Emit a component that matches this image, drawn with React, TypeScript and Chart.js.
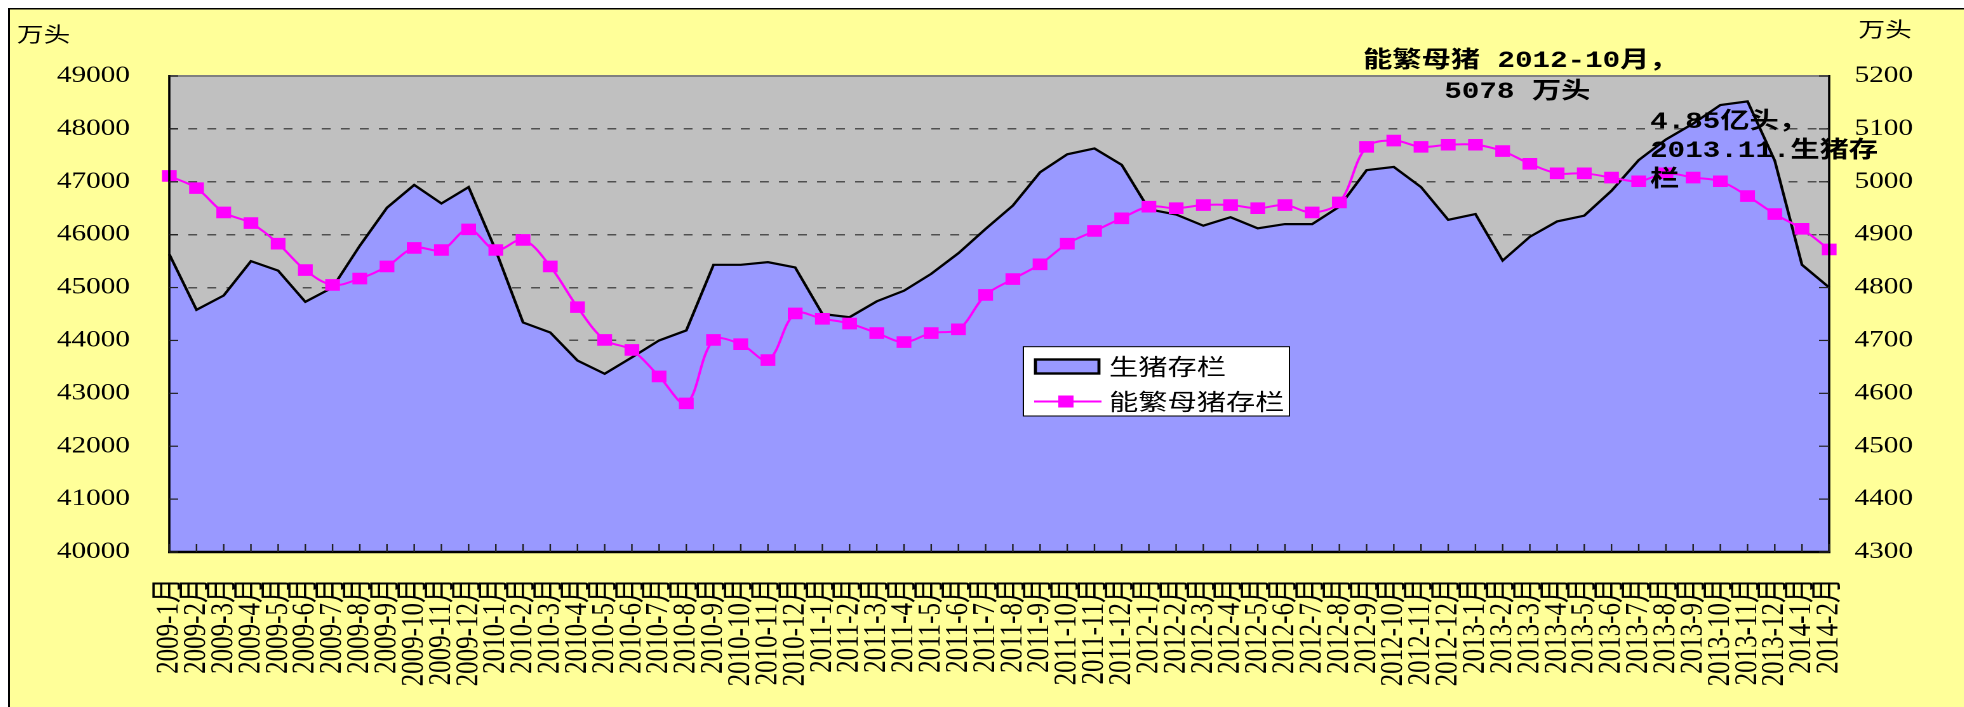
import React, { useEffect, useRef } from 'react';
import { Chart, registerables } from 'chart.js';

Chart.register(...registerables);

// ---------- data ----------
const categories: string[] = [
  '2009-1月', '2009-2月', '2009-3月', '2009-4月', '2009-5月', '2009-6月', '2009-7月', '2009-8月', '2009-9月', '2009-10月', '2009-11月', '2009-12月',
  '2010-1月', '2010-2月', '2010-3月', '2010-4月', '2010-5月', '2010-6月', '2010-7月', '2010-8月', '2010-9月', '2010-10月', '2010-11月', '2010-12月',
  '2011-1月', '2011-2月', '2011-3月', '2011-4月', '2011-5月', '2011-6月', '2011-7月', '2011-8月', '2011-9月', '2011-10月', '2011-11月', '2011-12月',
  '2012-1月', '2012-2月', '2012-3月', '2012-4月', '2012-5月', '2012-6月', '2012-7月', '2012-8月', '2012-9月', '2012-10月', '2012-11月', '2012-12月',
  '2013-1月', '2013-2月', '2013-3月', '2013-4月', '2013-5月', '2013-6月', '2013-7月', '2013-8月', '2013-9月', '2013-10月', '2013-11月', '2013-12月',
  '2014-1月', '2014-2月',
];

// 生猪存栏 (万头, left axis)
const hogStock: number[] = [
  45630, 44580, 44850, 45500, 45320, 44730, 45000, 45790, 46510, 46940, 46590, 46900,
  45700, 44340, 44150, 43620, 43370, 43680, 44000, 44190, 45430, 45430, 45480, 45380,
  44500, 44440, 44740, 44940, 45260, 45650, 46110, 46550, 47180, 47520, 47630, 47320,
  46480, 46380, 46170, 46330, 46120, 46200, 46200, 46530, 47220, 47280, 46900, 46280,
  46390, 45510, 45960, 46250, 46360, 46830, 47410, 47800, 48100, 48450, 48520, 47400,
  45430, 45000,
];

// 能繁母猪存栏 (万头, right axis)
const sowStock: number[] = [
  5011, 4988, 4942, 4922, 4883, 4833, 4805, 4817, 4840, 4875, 4871, 4910,
  4871, 4890, 4840, 4763, 4701, 4682, 4632, 4581, 4701, 4693, 4663, 4751,
  4741, 4732, 4714, 4697, 4714, 4721, 4786, 4816, 4844, 4883, 4907, 4931,
  4953, 4950, 4956, 4956, 4950, 4956, 4942, 4961, 5066, 5078, 5066, 5070,
  5070, 5058, 5034, 5016, 5016, 5008, 5001, 5016, 5008, 5001, 4973, 4939,
  4911, 4872,
];

const seriesNames: string[] = ['生猪存栏', '能繁母猪存栏'];
const leftAxisRange: number[] = [40000, 49000, 1000];
const rightAxisRange: number[] = [4300, 5200, 100];
const unitLabel = '万头';
const noteSow: string[] = ['能繁母猪 2012-10月，', '5078 万头'];
const noteHog: string[] = ['4.85亿头，', '2013.11.生猪存', '栏'];

// ---------- layout ----------
const STRETCH = 1.27;
const W = 1540;
const H = 699;

const NUM = "'Liberation Serif', 'Noto Sans CJK SC', serif";
const CJK = "'Noto Sans CJK SC', sans-serif";
const MONO = "'Liberation Mono', 'Noto Sans CJK SC', monospace";

export default function App() {
  const ref = useRef<HTMLCanvasElement>(null);

  useEffect(() => {
    const canvas = ref.current;
    if (!canvas) return;

    const line = (ctx: CanvasRenderingContext2D, x1: number, y1: number, x2: number, y2: number) => {
      ctx.beginPath();
      ctx.moveTo(x1, y1);
      ctx.lineTo(x2, y2);
      ctx.stroke();
    };

    const decor = {
      id: 'decor',
      beforeDraw(chart: any) {
        const { ctx, chartArea: a } = chart;
        ctx.save();
        ctx.fillStyle = '#FFFF99';
        ctx.fillRect(0, 0, chart.width, chart.height);
        ctx.fillStyle = '#C0C0C0';
        ctx.fillRect(a.left, a.top, a.right - a.left, a.bottom - a.top);
        ctx.strokeStyle = '#000';
        ctx.lineWidth = 1.5;
        ctx.beginPath();
        ctx.moveTo(0.75, chart.height);
        ctx.lineTo(0.75, 0.75);
        ctx.lineTo(chart.width, 0.75);
        ctx.stroke();
        ctx.restore();
      },
      afterDraw(chart: any) {
        const { ctx, chartArea: a, scales } = chart;
        const xs = scales.x;
        const ys = scales.y;
        const ys1 = scales.y1;
        ctx.save();
        // plot frame
        ctx.strokeStyle = '#808080';
        ctx.lineWidth = 2;
        line(ctx, a.left, a.top, a.right, a.top);
        ctx.strokeStyle = '#000';
        ctx.lineWidth = 1.8;
        line(ctx, a.left, a.top - 1, a.left, a.bottom);
        line(ctx, a.right, a.top - 1, a.right, a.bottom);
        ctx.lineWidth = 2.6;
        line(ctx, a.left - 1, a.bottom, a.right + 1, a.bottom);
        // inward tick marks
        ctx.lineWidth = 1.2;
        ctx.strokeStyle = '#222';
        ys.ticks.forEach((t: any) => {
          const py = ys.getPixelForValue(t.value);
          line(ctx, a.left, py, a.left + 7, py);
        });
        ys1.ticks.forEach((t: any) => {
          const py = ys1.getPixelForValue(t.value);
          line(ctx, a.right - 8, py, a.right, py);
        });
        categories.forEach((_, i) => {
          const px = xs.getPixelForValue(i);
          line(ctx, px, a.bottom, px, a.bottom - 8);
        });

        // unit labels
        ctx.fillStyle = '#000';
        ctx.textBaseline = 'middle';
        ctx.textAlign = 'left';
        ctx.font = `21px ${CJK}`;
        ctx.fillText(unitLabel, 7, 26);
        ctx.fillText(unitLabel, 1457, 21);

        // annotations
        ctx.font = `bold 23px ${MONO}`;
        ctx.fillText(noteSow[0], 1067, 53);
        ctx.fillText(noteSow[1], 1131, 84);
        ctx.fillText(noteHog[0], 1293, 114);
        ctx.fillText(noteHog[1], 1293, 143);
        ctx.fillText(noteHog[2], 1293, 172);

        // legend
        const lx = 799.5, ly = 338.7, lw = 209.5, lh = 69.3;
        ctx.fillStyle = '#FFFFFF';
        ctx.fillRect(lx, ly, lw, lh);
        ctx.strokeStyle = '#000';
        ctx.lineWidth = 1;
        ctx.strokeRect(lx, ly, lw, lh);
        const ds = chart.data.datasets;
        ctx.fillStyle = ds[0].backgroundColor;
        ctx.fillRect(809, 351.5, 50, 14);
        ctx.lineWidth = 2.4;
        ctx.strokeStyle = '#000';
        ctx.strokeRect(809, 351.5, 50, 14);
        ctx.strokeStyle = ds[1].borderColor;
        ctx.lineWidth = 2;
        line(ctx, 808, 393.5, 861, 393.5);
        ctx.fillStyle = ds[1].borderColor;
        ctx.fillRect(833 - 6, 393.5 - 6, 12, 12);
        ctx.fillStyle = '#000';
        ctx.font = `23px ${CJK}`;
        ctx.fillText(ds[0].label, 867, 358.5);
        ctx.fillText(ds[1].label, 867, 393.5);
        ctx.restore();
      },
    };

    const chart = new Chart(canvas, {
      type: 'line',
      data: {
        labels: categories,
        datasets: [
          {
            label: seriesNames[0],
            data: hogStock,
            yAxisID: 'y',
            fill: 'start',
            backgroundColor: '#9999FF',
            borderColor: '#000000',
            borderWidth: 2.2,
            pointRadius: 0,
            tension: 0,
            order: 2,
          },
          {
            label: seriesNames[1],
            data: sowStock,
            yAxisID: 'y1',
            fill: false,
            backgroundColor: '#FF00FF',
            borderColor: '#FF00FF',
            borderWidth: 2,
            pointStyle: 'rect',
            pointRadius: 7.5,
            pointBorderWidth: 1,
            pointBackgroundColor: '#FF00FF',
            pointBorderColor: '#FF00FF',
            tension: 0.35,
            clip: false,
            order: 1,
          },
        ],
      },
      options: {
        responsive: false,
        animation: false,
        devicePixelRatio: 2,
        layout: { padding: { top: 68, left: 0, right: 0, bottom: 0 } },
        plugins: {
          legend: { display: false },
          tooltip: { enabled: false },
        },
        scales: {
          x: {
            type: 'category',
            offset: false,
            grid: { display: false, drawTicks: false },
            border: { display: false },
            ticks: {
              autoSkip: false,
              minRotation: 90,
              maxRotation: 90,
              padding: 26,
              color: '#000',
              font: { family: NUM, size: 25 },
            },
            afterFit(s: any) { s.height = 155; },
          },
          y: {
            position: 'left',
            min: leftAxisRange[0],
            max: leftAxisRange[1],
            grid: { color: '#505050', lineWidth: 1.5, drawTicks: false },
            border: { display: false, dash: [7, 8] },
            ticks: {
              stepSize: leftAxisRange[2],
              padding: 31,
              color: '#000',
              font: { family: NUM, size: 23 },
              callback: (v: any) => String(v),
            },
            afterFit(s: any) { s.width = 127; },
          },
          y1: {
            position: 'right',
            min: rightAxisRange[0],
            max: rightAxisRange[1],
            grid: { display: false, drawTicks: false },
            border: { display: false },
            ticks: {
              stepSize: rightAxisRange[2],
              padding: 20,
              color: '#000',
              font: { family: NUM, size: 23 },
              callback: (v: any) => String(v),
            },
            afterFit(s: any) { s.width = 106; },
          },
        },
      } as any,
      plugins: [decor],
    });

    return () => chart.destroy();
  }, []);

  return (
    <div
      style={{
        position: 'fixed',
        left: 8,
        top: 8,
        width: W,
        height: H,
        transform: `scaleX(${STRETCH})`,
        transformOrigin: '0 0',
      }}
    >
      <canvas ref={ref} width={W} height={H} style={{ display: 'block' }} />
    </div>
  );
}
